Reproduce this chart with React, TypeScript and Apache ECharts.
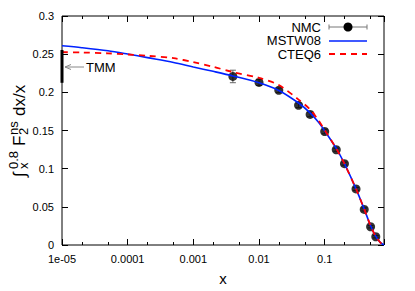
import React, { useEffect, useRef } from 'react';
import * as echarts from 'echarts';

// ---- data ----
const xTickValues = [1e-5, 1e-4, 1e-3, 1e-2, 1e-1];
const xTickLabels = ['1e-05', '0.0001', '0.001', '0.01', '0.1'];
const xMinorTicks = [2e-5, 5e-5, 2e-4, 5e-4, 2e-3, 5e-3, 0.02, 0.05, 0.2, 0.5];

const curveX = [1e-5, 2e-5, 5e-5, 1e-4, 2e-4, 5e-4, 1e-3, 2e-3, 4e-3, 0.01, 0.02, 0.04, 0.06, 0.08, 0.1, 0.15, 0.2, 0.3, 0.4, 0.5, 0.6, 0.7, 0.8];
const mstwY = [0.261, 0.2585, 0.2545, 0.2502, 0.2455, 0.2392, 0.2332, 0.2275, 0.2215, 0.2125, 0.2025, 0.186, 0.173, 0.161, 0.1495, 0.1265, 0.1065, 0.0735, 0.047, 0.0252, 0.0112, 0.0035, 0];
const cteqY = [0.2526, 0.2522, 0.2511, 0.2496, 0.2478, 0.2448, 0.2395, 0.2335, 0.2265, 0.219, 0.2095, 0.1905, 0.1775, 0.1635, 0.1505, 0.1265, 0.1065, 0.0735, 0.047, 0.0252, 0.0112, 0.0035, 0];

const nmcX = [0.004, 0.01, 0.02, 0.04, 0.06, 0.1, 0.15, 0.2, 0.3, 0.4, 0.5, 0.6];
const nmcY = [0.2208, 0.213, 0.2026, 0.183, 0.171, 0.1487, 0.1248, 0.1066, 0.0734, 0.0466, 0.0239, 0.0108];
const nmcErr = [0.0082, 0.004, 0.003, 0.003, 0.003, 0.003, 0.002, 0.002, 0.002, 0.002, 0.0015, 0.0015];

const tmmX = 1e-5;
const tmmLow = 0.2125;
const tmmHigh = 0.2555;

const FONT = 'Liberation Sans, Arial, DejaVu Sans, sans-serif';
const XMIN = 1e-5;
const XMAX = 0.8;

function txt(x: number, y: number, text: string, fontSize: number, align: string, fill = '#000') {
  return {
    type: 'text',
    x,
    y,
    style: {
      text,
      fontSize,
      fontFamily: FONT,
      fill,
      align,
      textAlign: align,
      verticalAlign: 'middle',
      textVerticalAlign: 'middle',
    },
  };
}

function seg(x1: number, y1: number, x2: number, y2: number, stroke: string, lineWidth = 1, lineDash?: number[]) {
  return {
    type: 'line',
    shape: { x1, y1, x2, y2 },
    style: { stroke, lineWidth, lineDash },
  };
}

export default function App() {
  const ref = useRef<HTMLDivElement>(null);
  useEffect(() => {
    if (!ref.current) return;
    const chart = echarts.init(ref.current, undefined, { renderer: 'svg' });
    const logMin = Math.log10(XMIN);
    const logMax = Math.log10(XMAX);
    const minorLog = xMinorTicks.map((v) => Math.log10(v));
    const fmtX = (v: number) => {
      const i = xTickValues.findIndex((t) => Math.abs(Math.log10(v) - Math.log10(t)) < 1e-6);
      return i >= 0 ? xTickLabels[i] : '';
    };
    const axisCommonX = {
      splitLine: { show: false },
      axisLine: { show: false },
    };
    const option: any = {
      animation: false,
      grid: { left: 62, right: 31, top: 16, bottom: 45, show: true, borderColor: '#000', borderWidth: 1, backgroundColor: 'transparent' },
      xAxis: [
        {
          type: 'log', logBase: 10, min: XMIN, max: XMAX, position: 'bottom',
          ...axisCommonX,
          axisTick: { show: true, inside: true, length: 6, lineStyle: { color: '#000' } },
          axisLabel: { show: true, formatter: fmtX, color: '#000', fontSize: 11, fontFamily: FONT, margin: 8 },
          name: 'x', nameLocation: 'middle', nameGap: 26,
          nameTextStyle: { color: '#000', fontSize: 15, fontFamily: FONT },
        },
        {
          type: 'value', min: logMin, max: logMax, position: 'bottom',
          ...axisCommonX,
          axisTick: { show: true, inside: true, length: 3, customValues: minorLog, lineStyle: { color: '#000' } },
          axisLabel: { show: false },
        },
        {
          type: 'log', logBase: 10, min: XMIN, max: XMAX, position: 'top',
          ...axisCommonX,
          axisTick: { show: true, inside: true, length: 6, lineStyle: { color: '#000' } },
          axisLabel: { show: false },
        },
        {
          type: 'value', min: logMin, max: logMax, position: 'top',
          ...axisCommonX,
          axisTick: { show: true, inside: true, length: 3, customValues: minorLog, lineStyle: { color: '#000' } },
          axisLabel: { show: false },
        },
      ],
      yAxis: [
        {
          type: 'value', min: 0, max: 0.3, interval: 0.05, position: 'left',
          splitLine: { show: false }, axisLine: { show: false },
          axisTick: { show: true, inside: true, length: 6, lineStyle: { color: '#000' } },
          axisLabel: { color: '#000', fontSize: 11, fontFamily: FONT, margin: 8 },
        },
        {
          type: 'value', min: 0, max: 0.3, interval: 0.05, position: 'right',
          splitLine: { show: false }, axisLine: { show: false },
          axisTick: { show: true, inside: true, length: 6, lineStyle: { color: '#000' } },
          axisLabel: { show: false },
        },
      ],
      series: [
        {
          type: 'custom',
          name: 'NMC err',
          xAxisIndex: 0,
          yAxisIndex: 0,
          data: nmcX.map((x, i) => [x, nmcY[i] - nmcErr[i], nmcY[i] + nmcErr[i]]),
          encode: { x: 0, y: [1, 2] },
          renderItem: (params: any, api: any) => {
            const x = api.value(0);
            const lo = api.coord([x, api.value(1)]);
            const hi = api.coord([x, api.value(2)]);
            const w = 3;
            const st = { stroke: '#666', lineWidth: 1 };
            return {
              type: 'group',
              children: [
                { type: 'line', shape: { x1: lo[0], y1: lo[1], x2: hi[0], y2: hi[1] }, style: st },
                { type: 'line', shape: { x1: lo[0] - w, y1: lo[1], x2: lo[0] + w, y2: lo[1] }, style: st },
                { type: 'line', shape: { x1: hi[0] - w, y1: hi[1], x2: hi[0] + w, y2: hi[1] }, style: st },
              ],
            };
          },
          z: 2,
        },
        {
          type: 'scatter',
          name: 'NMC',
          xAxisIndex: 0,
          yAxisIndex: 0,
          data: nmcX.map((x, i) => [x, nmcY[i]]),
          symbol: 'circle',
          symbolSize: 9,
          itemStyle: { color: '#000' },
          z: 3,
        },
        {
          type: 'line',
          name: 'MSTW08',
          xAxisIndex: 0,
          yAxisIndex: 0,
          data: curveX.map((x, i) => [x, mstwY[i]]),
          showSymbol: false,
          symbol: 'none',
          smooth: 0.3,
          lineStyle: { color: '#0022ff', width: 1.6 },
          z: 4,
        },
        {
          type: 'line',
          name: 'CTEQ6',
          xAxisIndex: 0,
          yAxisIndex: 0,
          data: curveX.map((x, i) => [x, cteqY[i]]),
          showSymbol: false,
          symbol: 'none',
          smooth: 0.3,
          lineStyle: { color: '#ff0000', width: 1.8, type: [6, 5] },
          z: 5,
        },
        {
          type: 'line',
          name: 'TMM',
          xAxisIndex: 0,
          yAxisIndex: 0,
          data: [[tmmX, tmmLow], [tmmX, tmmHigh]],
          showSymbol: false,
          symbol: 'none',
          clip: false,
          lineStyle: { color: '#000', width: 3 },
          z: 6,
        },
      ],
      graphic: [
        {
          type: 'group',
          x: 25,
          y: 177,
          rotation: Math.PI / 2,
          children: [
            txt(0, -6, '∫', 17, 'left'),
            txt(8, -11.5, '0.8', 13, 'left'),
            txt(8, -1.5, 'x', 13, 'left'),
            txt(31, -6, 'F', 17, 'left'),
            txt(42, -11.5, 'ns', 13, 'left'),
            txt(42, -1.5, '2', 13, 'left'),
            txt(61, -6, 'dx/x', 17, 'left'),
          ],
        },
        // legend
        txt(321, 27, 'NMC', 13, 'right'),
        seg(329, 27, 367, 27, '#777', 1),
        seg(329, 24.5, 329, 29.5, '#777', 1),
        seg(367, 24.5, 367, 29.5, '#777', 1),
        { type: 'circle', shape: { cx: 348, cy: 27, r: 4.5 }, style: { fill: '#000' } },
        txt(321, 40.7, 'MSTW08', 13, 'right'),
        seg(329, 41, 367, 41, '#0022ff', 1.6),
        txt(321, 54.3, 'CTEQ6', 13, 'right'),
        seg(329, 54, 367, 54, '#ff0000', 1.8, [6, 5]),
        // TMM annotation
        txt(86, 67, 'TMM', 13, 'left'),
        seg(84, 67, 65, 67, '#888', 1),
        seg(65, 67, 71, 64.5, '#888', 1),
        seg(65, 67, 71, 69.5, '#888', 1),
      ],
    };
    chart.setOption(option);
    return () => chart.dispose();
  }, []);
  return <div ref={ref} style={{ position: 'fixed', left: 0, top: 0, width: 415, height: 291, background: '#fff' }} />;
}
